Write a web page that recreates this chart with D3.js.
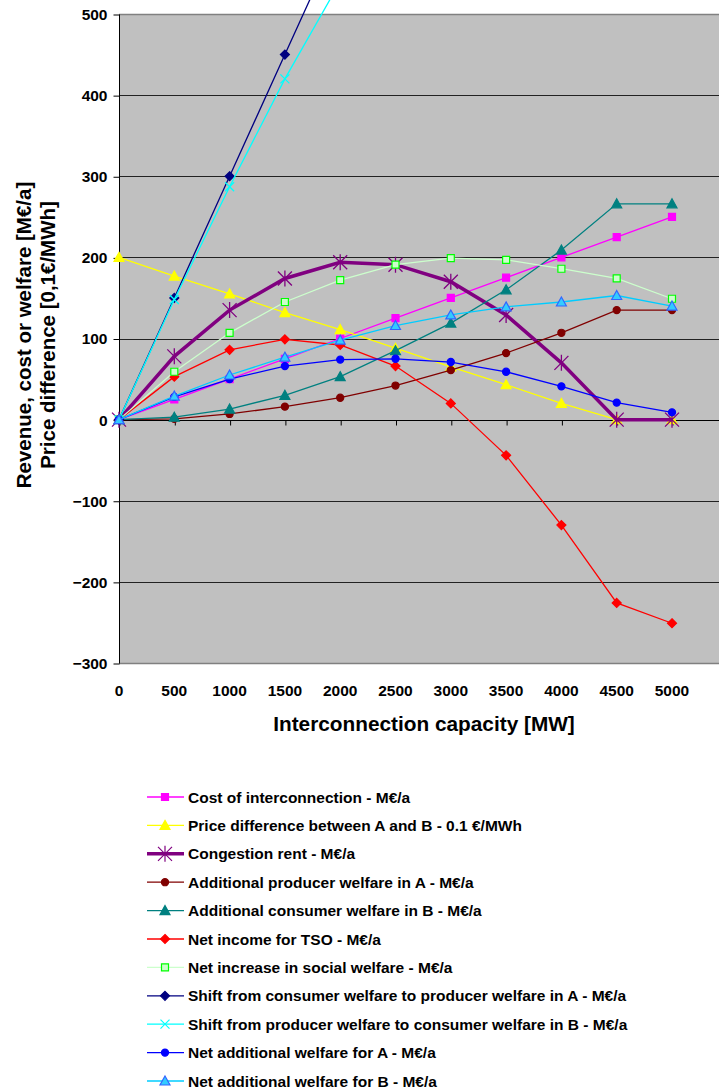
<!DOCTYPE html>
<html>
<head>
<meta charset="utf-8">
<script src="https://cdn.jsdelivr.net/npm/d3@7"></script>
<style>
  body { margin: 0; background: #fff; }
  text { font-family: Arial, 'Liberation Sans', sans-serif; font-weight: bold; fill: #000; }
</style>
</head>
<body>
<svg id="chart" width="719" height="1090"></svg>
<script>
// capacities on the x axis
const capacities = [0, 500, 1000, 1500, 2000, 2500, 3000, 3500, 4000, 4500, 5000];
const yTicks = [-300, -200, -100, 0, 100, 200, 300, 400, 500];

const costInterconnection = [0, 25, 50, 75, 100, 125, 150, 175, 200, 225, 250];
const priceDifference = [200, 177, 155, 132, 111, 88, 65, 43, 20, 0, 0];
const congestionRent = [0, 78, 135, 174, 194, 191, 170, 129, 70, 0, 0];
const producerWelfareA = [0, 1, 7, 16, 27, 42, 61, 82, 107, 135, 135];
const consumerWelfareB = [0, 3, 13, 30, 53, 85, 119, 160, 209, 266, 266];
const netIncomeTSO = [0, 53, 86, 99, 92, 66, 20, -44, -130, -226, -251];
const socialWelfare = [0, 59, 107, 145, 172, 191, 199, 197, 186, 174, 149];
const shiftA = [0, 150, 300, 450, 600, 750, 900, 1050, 1200, 1350, 1500];
const shiftB = [0, 148, 287, 420, 540, 650, 750, 840, 920, 990, 1050];
const netWelfareA = [0, 28, 50, 66, 74, 75, 71, 59, 41, 21, 9];
const netWelfareB = [0, 29, 55, 77, 98, 116, 129, 139, 145, 153, 140];

const series = [
  { name: 'Cost of interconnection - M€/a', values: costInterconnection, line: '#FF00FF', width: 1.3, marker: 'square', fill: '#FF00FF', stroke: '#FF00FF' },
  { name: 'Price difference between A and B - 0.1 €/MWh', values: priceDifference, line: '#FFFF00', width: 1.3, marker: 'triangle', fill: '#FFFF00', stroke: '#FFFF00' },
  { name: 'Congestion rent - M€/a', values: congestionRent, line: '#800080', width: 3.5, marker: 'star', fill: 'none', stroke: '#800080' },
  { name: 'Additional producer welfare in A - M€/a', values: producerWelfareA, line: '#800000', width: 1.3, marker: 'circle', fill: '#800000', stroke: '#800000' },
  { name: 'Additional consumer welfare in B - M€/a', values: consumerWelfareB, line: '#008080', width: 1.3, marker: 'triangle', fill: '#008080', stroke: '#008080' },
  { name: 'Net income for TSO - M€/a', values: netIncomeTSO, line: '#FF0000', width: 1.3, marker: 'diamond', fill: '#FF0000', stroke: '#FF0000' },
  { name: 'Net increase in social welfare - M€/a', values: socialWelfare, line: '#CCFFCC', width: 1.3, marker: 'square', fill: '#CCFFCC', stroke: '#00FF00' },
  { name: 'Shift from consumer welfare to producer welfare in A - M€/a', values: shiftA, line: '#000080', width: 1.3, marker: 'diamond', fill: '#000080', stroke: '#000080' },
  { name: 'Shift from producer welfare to consumer welfare in B - M€/a', values: shiftB, line: '#00FFFF', width: 1.3, marker: 'x', fill: 'none', stroke: '#00FFFF' },
  { name: 'Net additional welfare for A - M€/a', values: netWelfareA, line: '#0000FF', width: 1.3, marker: 'circle', fill: '#0000FF', stroke: '#0000FF' },
  { name: 'Net additional welfare for B - M€/a', values: netWelfareB, line: '#00CCFF', width: 1.3, marker: 'triangle', fill: '#33CCFF', stroke: '#3366FF' }
];

const svg = d3.select('#chart');

const plotLeft = 119, plotTop = 14, plotBottom = 663, plotRight = 730;

const xScale = d3.scaleLinear().domain([0, 5000]).range([plotLeft, 672]);
const yScale = d3.scaleLinear().domain([-300, 500]).range([plotBottom, plotTop]);

// plot area
svg.append('rect')
  .attr('x', plotLeft).attr('y', plotTop)
  .attr('width', plotRight - plotLeft).attr('height', plotBottom - plotTop)
  .attr('fill', '#C0C0C0');

// gridlines
svg.append('g')
  .selectAll('line')
  .data(yTicks.filter(d => d > -300 && d < 500))
  .enter()
  .append('line')
  .attr('x1', plotLeft).attr('x2', plotRight)
  .attr('y1', d => Math.round(yScale(d)) + 0.5)
  .attr('y2', d => Math.round(yScale(d)) + 0.5)
  .attr('stroke', '#222')
  .attr('stroke-width', 1);

// top and bottom border
[500, -300].forEach(v => {
  svg.append('line')
    .attr('x1', plotLeft).attr('x2', plotRight)
    .attr('y1', Math.round(yScale(v)) + 0.5).attr('y2', Math.round(yScale(v)) + 0.5)
    .attr('stroke', '#808080').attr('stroke-width', 1.5);
});

// y axis
const yAxis = svg.append('g')
  .attr('transform', `translate(${plotLeft + 0.5}, 0.5)`)
  .call(d3.axisLeft(yScale).tickValues(yTicks).tickSize(6).tickPadding(6).tickFormat(d3.format('d')));
yAxis.select('.domain').attr('stroke', '#000').attr('d', `M0,${plotTop}V${plotBottom}`);
yAxis.selectAll('.tick line').attr('stroke', '#000');
yAxis.selectAll('.tick text')
  .style('font-size', '15.5px')
  .attr('fill', '#000');

// x axis ticks sit on the zero line, labels at the bottom
const xAxis = svg.append('g')
  .attr('transform', `translate(0.5, ${Math.round(yScale(0)) + 0.5})`)
  .call(d3.axisBottom(xScale).tickValues(capacities).tickSize(5).tickFormat(''));
xAxis.select('.domain').attr('stroke', '#000').attr('d', `M${plotLeft},0H${plotRight}`);
xAxis.selectAll('.tick line').attr('stroke', '#000');

svg.append('g')
  .selectAll('text')
  .data(capacities)
  .enter()
  .append('text')
  .attr('x', d => xScale(d))
  .attr('y', 696)
  .attr('text-anchor', 'middle')
  .style('font-size', '15.5px')
  .text(d => d);

// axis titles
svg.append('text')
  .attr('x', 424)
  .attr('y', 731)
  .attr('text-anchor', 'middle')
  .style('font-size', '20.8px')
  .text('Interconnection capacity [MW]');

svg.append('text')
  .attr('transform', 'translate(31, 335) rotate(-90)')
  .attr('text-anchor', 'middle')
  .style('font-size', '20.5px')
  .text('Revenue, cost or welfare [M€/a]');

svg.append('text')
  .attr('transform', 'translate(55, 335) rotate(-90)')
  .attr('text-anchor', 'middle')
  .style('font-size', '20.5px')
  .text('Price difference [0,1€/MWh]');

// marker shapes
const markerPath = (type) => {
  if (type === 'square') return 'M-3.5,-3.5H3.5V3.5H-3.5Z';
  if (type === 'triangle') return 'M0,-5L5,4H-5Z';
  if (type === 'diamond') return 'M0,-4.5L4.5,0L0,4.5L-4.5,0Z';
  if (type === 'circle') return d3.symbol(d3.symbolCircle, 40)();
  if (type === 'star') return 'M0,-8V8M-7,-7L7,7M-7,7L7,-7';
  if (type === 'x') return 'M-4.5,-4.5L4.5,4.5M-4.5,4.5L4.5,-4.5';
  return '';
};

const line = d3.line()
  .x((d, i) => xScale(capacities[i]))
  .y(d => yScale(d));

series.forEach(s => {
  const g = svg.append('g');
  g.append('path')
    .attr('d', line(s.values))
    .attr('fill', 'none')
    .attr('stroke', s.line)
    .attr('stroke-width', s.width);
  g.selectAll('path.m')
    .data(s.values)
    .enter()
    .append('path')
    .attr('class', 'm')
    .attr('transform', (d, i) => `translate(${xScale(capacities[i])}, ${yScale(d)})`)
    .attr('d', markerPath(s.marker))
    .attr('fill', s.fill)
    .attr('stroke', s.stroke)
    .attr('stroke-width', s.marker === 'star' || s.marker === 'x' ? 1.3 : 1.2);
});

// legend
const legend = svg.append('g');
series.forEach((s, i) => {
  const y = 797 + i * 28.4;
  legend.append('line')
    .attr('x1', 147).attr('x2', 184)
    .attr('y1', y).attr('y2', y)
    .attr('stroke', s.line)
    .attr('stroke-width', s.width);
  legend.append('path')
    .attr('transform', `translate(165, ${y})`)
    .attr('d', markerPath(s.marker))
    .attr('fill', s.fill)
    .attr('stroke', s.stroke)
    .attr('stroke-width', 1.2);
  legend.append('text')
    .attr('x', 188)
    .attr('y', y + 5.5)
    .style('font-size', '15.5px')
    .text(s.name);
});
</script>
</body>
</html>
